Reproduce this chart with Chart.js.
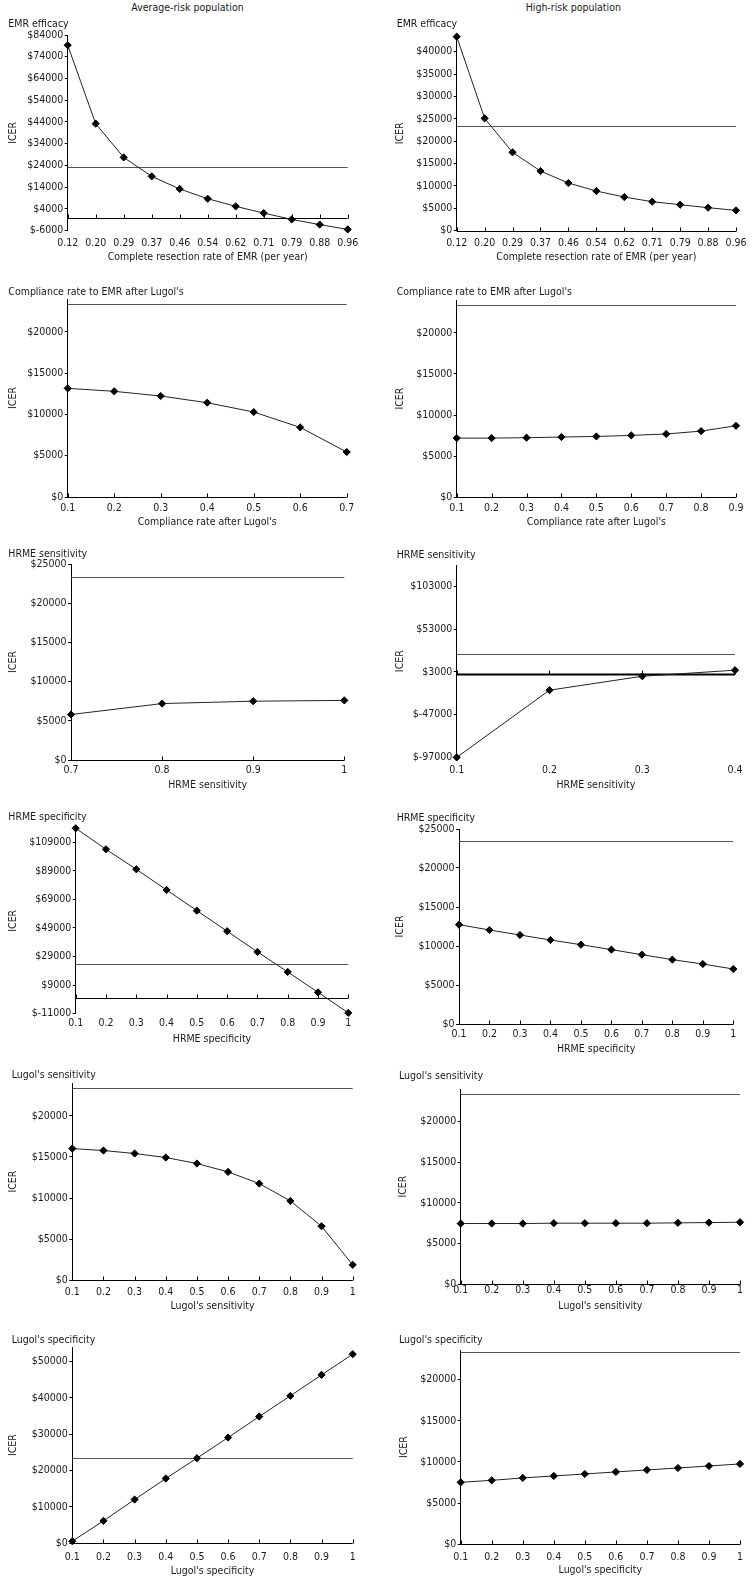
<!DOCTYPE html>
<html>
<head>
<meta charset="utf-8">
<script src="https://cdn.jsdelivr.net/npm/chart.js@4.4.0/dist/chart.umd.min.js"></script>
<style>
body{margin:0;background:#fff;width:755px;height:1582px;position:relative;overflow:hidden;
  font-family:'DejaVu Sans Condensed','Liberation Sans',sans-serif;font-size:10.5px;color:#1a1a1a}
canvas{position:absolute}
.lbl{position:absolute;line-height:13px;white-space:nowrap;z-index:2}
</style>
</head>
<body>
<script>
// x categories
var emrRate = ['0.12','0.20','0.29','0.37','0.46','0.54','0.62','0.71','0.79','0.88','0.96'];
var compAvgX = ['0.1','0.2','0.3','0.4','0.5','0.6','0.7'];
var compHighX = ['0.1','0.2','0.3','0.4','0.5','0.6','0.7','0.8','0.9'];
var hrmeSensAvgX = ['0.7','0.8','0.9','1'];
var hrmeSensHighX = ['0.1','0.2','0.3','0.4'];
var tenths = ['0.1','0.2','0.3','0.4','0.5','0.6','0.7','0.8','0.9','1'];

// ICER values
var emrAvg = [79300, 43200, 27700, 19000, 13200, 8700, 5200, 2100, -800, -3200, -5400];
var emrHigh = [43350, 25100, 17500, 13330, 10650, 8860, 7520, 6480, 5810, 5140, 4540];
var compAvg = [13170, 12810, 12240, 11430, 10300, 8440, 5450];
var compHigh = [7200, 7200, 7250, 7330, 7400, 7530, 7700, 8050, 8700];
var hrmeSensAvg = [5800, 7200, 7500, 7600];
var hrmeSensHigh = [-97000, -18400, -2100, 5000];
var hrmeSpecAvg = [118800, 104100, 90100, 75600, 61100, 46700, 32200, 18200, 3900, -10500];
var hrmeSpecHigh = [12740, 12050, 11410, 10770, 10170, 9530, 8890, 8250, 7690, 7050];
var lugSensAvg = [16020, 15780, 15420, 14930, 14200, 13180, 11760, 9650, 6570, 1870];
var lugSensHigh = [7460, 7460, 7460, 7500, 7500, 7500, 7500, 7540, 7580, 7620];
var lugSpecAvg = [550, 6150, 12020, 17800, 23390, 29080, 34860, 40550, 46330, 52020];
var lugSpecHigh = [7530, 7770, 8060, 8300, 8540, 8790, 9030, 9270, 9510, 9760];

// y tick labels
var ticksEmrAvg = [-6000, 4000, 14000, 24000, 34000, 44000, 54000, 64000, 74000, 84000];
var ticksEmrHigh = [0, 5000, 10000, 15000, 20000, 25000, 30000, 35000, 40000];
var ticks20k = [0, 5000, 10000, 15000, 20000];
var ticks25k = [0, 5000, 10000, 15000, 20000, 25000];
var ticksSensHigh = [-97000, -47000, 3000, 53000, 103000];
var ticksSpecAvg = [-11000, 9000, 29000, 49000, 69000, 89000, 109000];
var ticks50k = [0, 10000, 20000, 30000, 40000, 50000];

var THRESHOLD = 23400;

var FONT = "'DejaVu Sans Condensed', 'Liberation Sans', sans-serif";
var FS = 10.5;
var LH = FS * 1.2;

var headings = [
  {text: 'Average-risk population', cx: 187.5, cy: 7},
  {text: 'High-risk population', cx: 573.3, cy: 7}
];

var panels = [
  {col:0, title:'EMR efficacy', labels:emrRate, data:emrAvg, ticks:ticksEmrAvg, min:-6000, max:84000,
   axisX:67.7, rightX:347.7, topY:35, bottomY:230.7, labelY:243.3, xtitleY:257.3, icerX:13.3, titleX:8.3, titleY:23.3,
   xTitle:'Complete resection rate of EMR (per year)'},
  {col:375, title:'EMR efficacy', labels:emrRate, data:emrHigh, ticks:ticksEmrHigh, min:0, max:43500,
   axisX:456.7, rightX:736, topY:36, bottomY:230.7, labelY:243.3, xtitleY:257.3, icerX:400, titleX:396.7, titleY:23.3,
   xTitle:'Complete resection rate of EMR (per year)'},
  {col:0, title:"Compliance rate to EMR after Lugol's", labels:compAvgX, data:compAvg, ticks:ticks20k, min:0, max:24000,
   axisX:67.7, rightX:346.7, topY:298.7, bottomY:496.7, labelY:508.3, xtitleY:521.7, icerX:13, titleX:8.3, titleY:291.7,
   xTitle:"Compliance rate after Lugol's"},
  {col:375, title:"Compliance rate to EMR after Lugol's", labels:compHighX, data:compHigh, ticks:ticks20k, min:0, max:24000,
   axisX:456.7, rightX:736, topY:299.8, bottomY:497.1, labelY:508.3, xtitleY:522.3, icerX:400, titleX:396.7, titleY:291,
   xTitle:"Compliance rate after Lugol's"},
  {col:0, title:'HRME sensitivity', labels:hrmeSensAvgX, data:hrmeSensAvg, ticks:ticks25k, min:0, max:25000,
   axisX:71, rightX:344.3, topY:564, bottomY:760, labelY:770, xtitleY:785, icerX:13.3, titleX:8.3, titleY:553.3,
   xTitle:'HRME sensitivity'},
  {col:375, title:'HRME sensitivity', labels:hrmeSensHighX, data:hrmeSensHigh, ticks:ticksSensHigh, min:-97000, max:128000,
   axisX:456.7, rightX:735, topY:564.6, bottomY:757, labelY:770, xtitleY:785, icerX:400, titleX:396.7, titleY:554,
   xTitle:'HRME sensitivity', zeroWidth:2},
  {col:0, title:'HRME specificity', labels:tenths, data:hrmeSpecAvg, ticks:ticksSpecAvg, min:-11000, max:119000,
   axisX:75.7, rightX:348.3, topY:827.7, bottomY:1013.3, labelY:1023.3, xtitleY:1038.3, icerX:13.3, titleX:8.3, titleY:816.7,
   xTitle:'HRME specificity'},
  {col:375, title:'HRME specificity', labels:tenths, data:hrmeSpecHigh, ticks:ticks25k, min:0, max:25000,
   axisX:459, rightX:733.3, topY:829.3, bottomY:1024.3, labelY:1035, xtitleY:1049.3, icerX:400, titleX:396.7, titleY:817.3,
   xTitle:'HRME specificity'},
  {col:0, title:"Lugol's sensitivity", labels:tenths, data:lugSensAvg, ticks:ticks20k, min:0, max:24000,
   axisX:72.3, rightX:352.7, topY:1082.8, bottomY:1280, labelY:1291.7, xtitleY:1306, icerX:13.3, titleX:11.7, titleY:1074.3,
   xTitle:"Lugol's sensitivity"},
  {col:375, title:"Lugol's sensitivity", labels:tenths, data:lugSensHigh, ticks:ticks20k, min:0, max:24000,
   axisX:460.7, rightX:740, topY:1088.8, bottomY:1284, labelY:1290, xtitleY:1306, icerX:403.3, titleX:399, titleY:1075.7,
   xTitle:"Lugol's sensitivity"},
  {col:0, title:"Lugol's specificity", labels:tenths, data:lugSpecAvg, ticks:ticks50k, min:0, max:54000,
   axisX:72.3, rightX:352.7, topY:1346.5, bottomY:1542.7, labelY:1557, xtitleY:1570.3, icerX:13.3, titleX:11.7, titleY:1339.3,
   xTitle:"Lugol's specificity"},
  {col:375, title:"Lugol's specificity", labels:tenths, data:lugSpecHigh, ticks:ticks20k, min:0, max:23600,
   axisX:460.7, rightX:740, topY:1350, bottomY:1544.3, labelY:1557.7, xtitleY:1570.3, icerX:404.3, titleX:399, titleY:1339.3,
   xTitle:"Lugol's specificity"}
];

// threshold line, x axis drawn at y = 0 with inward tick marks
var refLines = {
  id: 'refLines',
  beforeDatasetsDraw: function(chart) {
    var ctx = chart.ctx, a = chart.chartArea, x = chart.scales.x, y = chart.scales.y;
    var o = chart.options.plugins.refLines;
    ctx.save();
    var ty = Math.round(y.getPixelForValue(THRESHOLD)) + 0.5;
    ctx.strokeStyle = '#555';
    ctx.lineWidth = 1;
    ctx.beginPath();
    ctx.moveTo(a.left, ty);
    ctx.lineTo(a.right, ty);
    ctx.stroke();
    var zy = Math.round(y.getPixelForValue(0)) + 0.5;
    ctx.strokeStyle = '#000';
    ctx.lineWidth = o.zeroWidth || 1;
    ctx.beginPath();
    ctx.moveTo(a.left, zy);
    ctx.lineTo(a.right, zy);
    ctx.stroke();
    ctx.lineWidth = 1;
    ctx.beginPath();
    x.ticks.forEach(function(t, i) {
      var px = Math.round(x.getPixelForTick(i)) + 0.5;
      ctx.moveTo(px, zy);
      ctx.lineTo(px, zy - 4);
    });
    ctx.stroke();
    ctx.restore();
  }
};

function addLabel(text, left, top, center) {
  var d = document.createElement('div');
  d.className = 'lbl';
  d.textContent = text;
  d.style.top = (top - 6.5) + 'px';
  d.style.left = left + 'px';
  if (center) d.style.transform = 'translateX(-50%)';
  document.body.appendChild(d);
}

headings.forEach(function(h) { addLabel(h.text, h.cx, h.cy, true); });

panels.forEach(function(p) {
  addLabel(p.title, p.titleX, p.titleY, false);

  var cw = p.col === 0 ? 375 : 380;
  var top = p.topY - 16;
  var bottom = p.xtitleY + 9;
  var ch = Math.round(bottom - top);
  var cv = document.createElement('canvas');
  cv.width = cw;
  cv.height = ch;
  cv.style.left = p.col + 'px';
  cv.style.top = top + 'px';
  cv.style.width = cw + 'px';
  cv.style.height = ch + 'px';
  document.body.appendChild(cv);

  var yW = p.axisX - p.col;
  var xH = ch - (p.bottomY - top);
  var yticks = p.ticks;

  new Chart(cv.getContext('2d'), {
    type: 'line',
    data: {
      labels: p.labels,
      datasets: [{
        data: p.data,
        borderColor: '#222',
        borderWidth: 1,
        tension: 0,
        pointStyle: 'rectRot',
        pointRadius: 3.6,
        pointBackgroundColor: '#000',
        pointBorderColor: '#000',
        pointBorderWidth: 1,
        clip: false
      }]
    },
    options: {
      responsive: false,
      animation: false,
      events: [],
      layout: {padding: {top: 16, left: 0, bottom: 0, right: cw - (p.rightX - p.col)}},
      plugins: {
        legend: {display: false},
        tooltip: {enabled: false},
        refLines: {zeroWidth: p.zeroWidth}
      },
      scales: {
        x: {
          type: 'category',
          offset: false,
          grid: {display: false, drawTicks: false},
          border: {display: false},
          ticks: {
            autoSkip: false, maxRotation: 0, color: '#1a1a1a',
            padding: p.labelY - p.bottomY - LH / 2,
            font: {family: FONT, size: FS}
          },
          title: {display: true, text: p.xTitle, color: '#1a1a1a',
            padding: {top: 0, bottom: 9 - LH / 2}, font: {family: FONT, size: FS}},
          afterFit: function(s) { s.height = xH; }
        },
        y: {
          min: p.min,
          max: p.max,
          grid: {display: true, drawOnChartArea: false, drawTicks: true, tickLength: 3, color: '#000'},
          border: {display: true, color: '#000', width: 1},
          ticks: {
            color: '#1a1a1a', padding: 1.5,
            font: {family: FONT, size: FS},
            callback: function(v) { return '$' + v; }
          },
          afterBuildTicks: function(s) {
            s.ticks = yticks.map(function(v) { return {value: v}; });
          },
          title: {display: true, text: 'ICER', color: '#1a1a1a',
            padding: {top: p.icerX - p.col - LH / 2, bottom: 0}, font: {family: FONT, size: FS}},
          afterFit: function(s) { s.width = yW; }
        }
      }
    },
    plugins: [refLines]
  });
});
</script>
</body>
</html>
